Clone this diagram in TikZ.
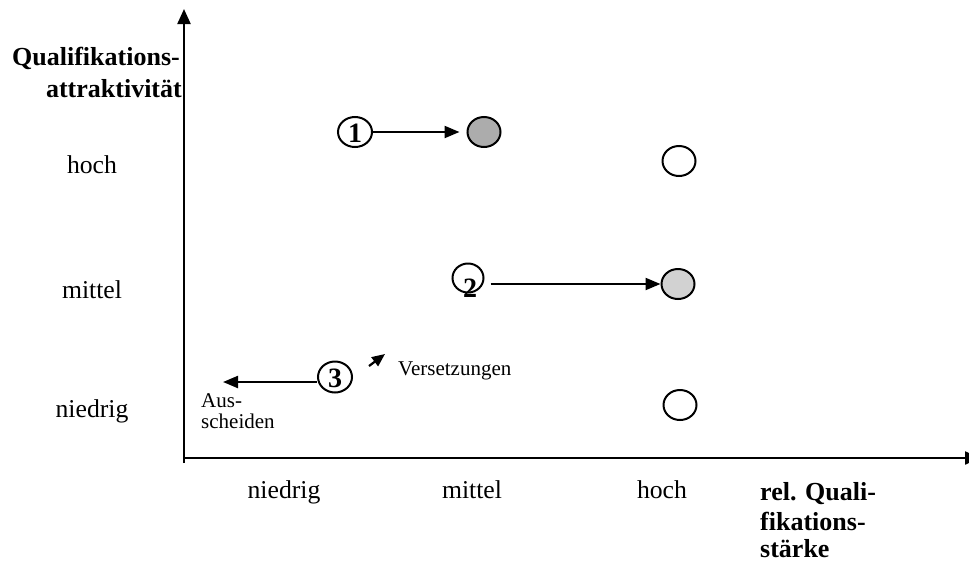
\documentclass[tikz,border=0pt]{standalone}
\usepackage{fontspec}
\setmainfont{Liberation Serif}
\usetikzlibrary{arrows.meta,shapes.geometric}
\tikzset{
  lbl/.style={font=\fontsize{25.7}{30}\selectfont, anchor=base, inner sep=0},
  small/.style={font=\fontsize{21}{24}\selectfont, inner sep=0},
  bold/.style={font=\fontsize{26}{30}\selectfont\bfseries, inner sep=0},
  ring/.style={draw, ellipse, line width=2pt, inner sep=0, minimum width=33pt, minimum height=30pt},
  digit/.style={font=\fontsize{28}{30}\selectfont\bfseries, inner sep=0},
  arr/.style={line width=2.2pt, -{Triangle[length=15pt,width=12pt]}},
  axis/.style={line width=2.2pt, -{Triangle[length=15pt,width=13pt]}}
}
\begin{document}
\begin{tikzpicture}[x=1pt,y=-1pt]
\useasboundingbox (0,0) rectangle (969,568);

% axes
\coordinate (o) at (184,458);
\coordinate (ytop) at (184,9);
\coordinate (xend) at (980,458);
\coordinate (ybot) at (184,463);
\draw[line width=2.2pt] (ybot) -- (o);
\draw[axis] (o) -- (ytop);
\draw[axis] (o) -- (xend);

% axis titles
\node[bold, anchor=base west] (ytitleA) at (12,65) {Qualifikations-};
\node[bold, anchor=base east] (ytitleB) at (182,97) {attraktivität};
\node[bold, anchor=base west] (xtitleA) at (760,500) {rel. Quali-};
\node[bold, anchor=base west] (xtitleB) at (760,530) {fikations-};
\node[bold, anchor=base west] (xtitleC) at (760,557) {stärke};

% vertical scale
\node[lbl] (yh) at (92,173) {hoch};
\node[lbl] (ym) at (92,298) {mittel};
\node[lbl] (yn) at (92,417) {niedrig};

% horizontal scale
\node[lbl] (xn) at (284,498) {niedrig};
\node[lbl] (xm) at (472,498) {mittel};
\node[lbl] (xh) at (662,498) {hoch};

% positions
\node[ring, fill=gray!65] (e1) at (484,132) {};
\node[ring] (eh) at (679,161) {};
\node[ring, fill=gray!35] (e2) at (678,284) {};
\node[ring] (en) at (680,405) {};

% movements
\node[ring, minimum width=34pt] (c1) at (355,132) {};
\node[digit] (d1) at (355,133) {1};
\draw[arr, shorten >=7pt] (c1) -- (e1);

\node[ring, minimum width=31pt, minimum height=29pt] (c2) at (468,278) {};
\node[digit] (d2) at (470,288) {2};
\draw[arr, shorten <=6pt] (c2.east |- e2.west) -- (e2.west);

\node[ring, minimum width=34pt, minimum height=31pt] (c3) at (335,377) {};
\node[digit] (d3) at (335,378) {3};
\coordinate (out) at (223,382);
\draw[arr] (c3.west |- out) -- (out);

\coordinate (vs) at (369,366);
\coordinate (ve) at (385,354);
\draw[line width=2.2pt, -{Triangle[length=13pt,width=11pt]}] (vs) -- (ve);
\node[small, anchor=base west] (vers) at (398,375) {Versetzungen};
\node[small, anchor=base west] (aus1) at (201,407) {Aus-};
\node[small, anchor=base west] (aus2) at (201,428) {scheiden};
\end{tikzpicture}
\end{document}
